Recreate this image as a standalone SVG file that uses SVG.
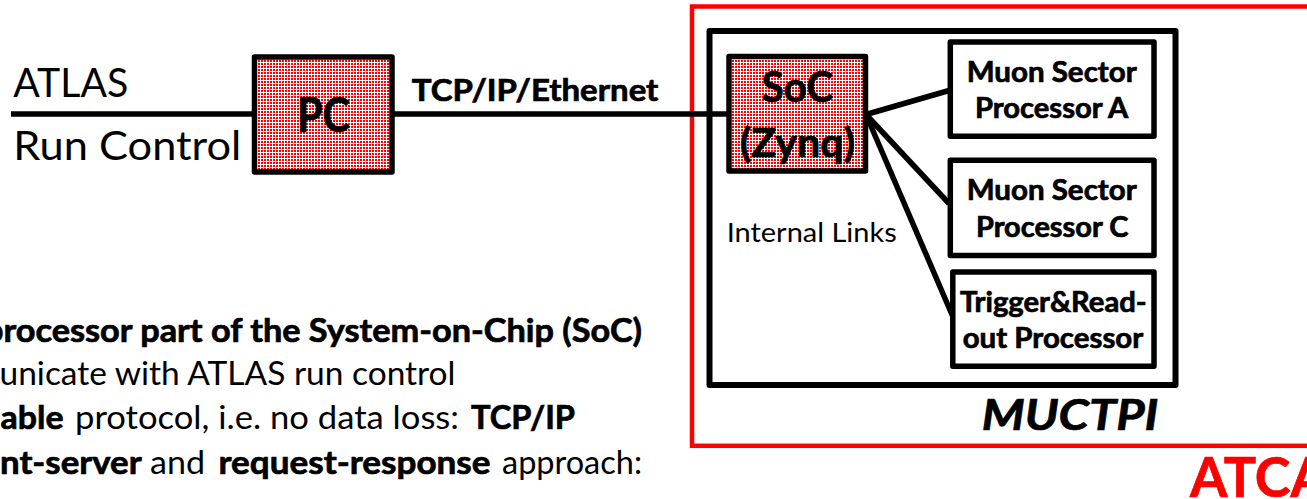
<svg xmlns="http://www.w3.org/2000/svg" width="1307" height="499" viewBox="0 0 1307 499">
  <defs>
    <!-- red dot fill used for the processing elements -->
    <pattern id="dots" patternUnits="userSpaceOnUse" width="3" height="3">
      <rect width="3" height="3" fill="#ffffff"/>
      <rect width="2" height="2" fill="#ff0000"/>
    </pattern>
    <style>
      text { font-family: Lato, "Open Sans", "Liberation Sans", sans-serif; fill: #000; }
      .b { font-weight: 700; stroke: #000; stroke-width: 0.7; }
      .r { font-weight: 400; stroke: none; }
      .box { fill: #ffffff; stroke: #000; stroke-width: 5.5; stroke-linejoin: round; }
      .dotted { fill: url(#dots); stroke: #000; stroke-width: 5.5; stroke-linejoin: round; }
      .link { stroke: #000; stroke-width: 5.5; fill: none; stroke-linecap: butt; }
      .proc { font-size: 28px; }
      .note { font-size: 33px; }
    </style>
  </defs>

  <rect width="1307" height="499" fill="#ffffff"/>

  <!-- ATCA crate outline -->
  <g id="atca">
    <rect x="692" y="6.5" width="640" height="439.3" fill="none" stroke="#ff0000" stroke-width="4.5"/>
    <text x="1190" y="497" class="b" font-size="56" style="fill:#ff0000;stroke:#ff0000" textLength="138" lengthAdjust="spacingAndGlyphs">ATCA</text>
  </g>

  <!-- MUCTPI board -->
  <g id="muctpi">
    <rect x="709.5" y="31" width="466" height="354" fill="none" stroke="#000" stroke-width="6" stroke-linejoin="round"/>
    <text x="981.7" y="430" class="b" font-size="42" font-style="italic" textLength="176.7" lengthAdjust="spacingAndGlyphs">MUCTPI</text>
  </g>

  <!-- connectors -->
  <g id="connectors">
    <line class="link" x1="11" y1="114" x2="254" y2="114"/>
    <line class="link" x1="392" y1="114" x2="729" y2="114"/>
    <line class="link" x1="866" y1="114.5" x2="949" y2="90.5"/>
    <line class="link" x1="866" y1="114.5" x2="949" y2="203.5"/>
    <line class="link" x1="866" y1="114.5" x2="953" y2="317"/>
    <text x="411.7" y="100.7" class="b" font-size="30" textLength="246.7" lengthAdjust="spacingAndGlyphs">TCP/IP/Ethernet</text>
    <text x="726.7" y="241.7" font-size="27.5" textLength="170" lengthAdjust="spacingAndGlyphs">Internal Links</text>
  </g>

  <!-- run control endpoint -->
  <g id="run-control">
    <text x="13.3" y="96.7" font-size="41.5" textLength="115" lengthAdjust="spacingAndGlyphs">ATLAS</text>
    <text x="13.3" y="160" font-size="41.5" textLength="228" lengthAdjust="spacingAndGlyphs">Run Control</text>
  </g>

  <!-- PC -->
  <g id="pc">
    <rect class="dotted" x="254.5" y="57" width="137.5" height="115"/>
    <text x="323.5" y="131.7" class="b" font-size="47" text-anchor="middle" textLength="53" lengthAdjust="spacingAndGlyphs">PC</text>
  </g>

  <!-- SoC -->
  <g id="soc">
    <rect class="dotted" x="729" y="56.5" width="136.5" height="114.5"/>
    <text x="797.5" y="101.7" class="b" font-size="42" text-anchor="middle" textLength="71.6" lengthAdjust="spacingAndGlyphs">SoC</text>
    <text x="797.5" y="156.7" class="b" font-size="40" text-anchor="middle" textLength="115" lengthAdjust="spacingAndGlyphs">(Zynq)</text>
  </g>

  <!-- Muon Sector Processor A -->
  <g id="msp-a">
    <rect class="box" x="950.3" y="42" width="203.7" height="94.3"/>
    <text x="966.7" y="81.7" class="b proc" textLength="170" lengthAdjust="spacingAndGlyphs">Muon Sector</text>
    <text x="975" y="118.3" class="b proc" textLength="153.3" lengthAdjust="spacingAndGlyphs">Processor A</text>
  </g>

  <!-- Muon Sector Processor C -->
  <g id="msp-c">
    <rect class="box" x="950.3" y="160.3" width="203.7" height="95.2"/>
    <text x="966.7" y="200" class="b proc" textLength="170" lengthAdjust="spacingAndGlyphs">Muon Sector</text>
    <text x="976" y="236.7" class="b proc" textLength="152.3" lengthAdjust="spacingAndGlyphs">Processor C</text>
  </g>

  <!-- Trigger and Readout Processor -->
  <g id="trp">
    <rect class="box" x="952.8" y="272" width="201.2" height="94.3"/>
    <text x="960" y="311.7" class="b proc" textLength="186.7" lengthAdjust="spacingAndGlyphs">Trigger&amp;Read-</text>
    <text x="962.7" y="348.3" class="b proc" textLength="180.6" lengthAdjust="spacingAndGlyphs">out Processor</text>
  </g>

  <!-- bullet text -->
  <g id="notes" class="note">
    <text x="-16" y="341.7" class="b" textLength="658" lengthAdjust="spacingAndGlyphs">processor part of the System-on-Chip (SoC)</text>
    <text x="-0.5" y="384.5" textLength="456" lengthAdjust="spacingAndGlyphs">unicate with ATLAS run control</text>
    <text y="428.5"><tspan x="0.5" class="b" textLength="63" lengthAdjust="spacingAndGlyphs">able</tspan><tspan x="75" class="r" textLength="384" lengthAdjust="spacingAndGlyphs">protocol, i.e. no data loss:</tspan><tspan x="471" class="b" textLength="104" lengthAdjust="spacingAndGlyphs">TCP/IP</tspan></text>
    <text y="473.5"><tspan x="0" class="b" textLength="141.7" lengthAdjust="spacingAndGlyphs">nt-server</tspan><tspan x="150" class="r" textLength="55" lengthAdjust="spacingAndGlyphs">and</tspan><tspan x="218.5" class="b" textLength="272" lengthAdjust="spacingAndGlyphs">request-response</tspan><tspan x="502" class="r" textLength="140" lengthAdjust="spacingAndGlyphs">approach:</tspan></text>
  </g>
</svg>
